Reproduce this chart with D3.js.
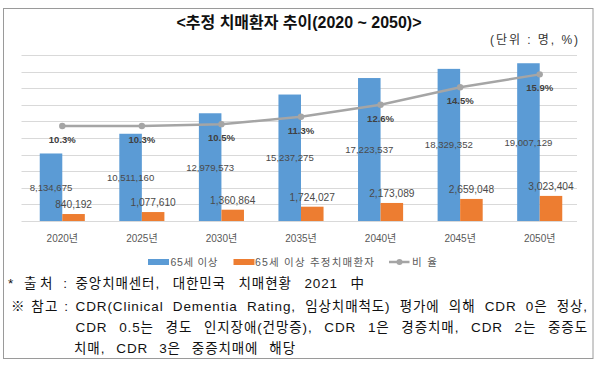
<!DOCTYPE html>
<html>
<head>
<meta charset="utf-8">
<script src="https://cdn.jsdelivr.net/npm/d3@7"></script>
<style>
  body { margin: 0; background: #fff; }
  svg { display: block; font-family: "Liberation Sans", "Noto Sans CJK KR", sans-serif; }
</style>
</head>
<body>
<div id="chart"></div>
<script>
// data
var years = ["2020년", "2025년", "2030년", "2035년", "2040년", "2045년", "2050년"];
var pop65 = [8134675, 10511160, 12979573, 15237275, 17223537, 18329352, 19007129];
var dementia = [840192, 1077610, 1360864, 1724027, 2173089, 2659048, 3023404];
var ratio = [10.3, 10.3, 10.5, 11.3, 12.6, 14.5, 15.9];
var seriesNames = ["65세 이상", "65세 이상 추정치매환자", "비 율"];

var title = "<추정 치매환자 추이(2020 ~ 2050)>";
var unitText = "(단위 : 명, %)";
var notes = [
  ["* 출처 :", "중앙치매센터, 대한민국 치매현황 2021 中"],
  ["※ 참고 :", "CDR(Clinical Dementia Rating, 임상치매척도) 평가에 의해 CDR 0은 정상,"],
  ["", "CDR 0.5는 경도 인지장애(건망증), CDR 1은 경증치매, CDR 2는 중증도"],
  ["", "치매, CDR 3은 중증치매에 해당"]
];

var svgWidth = 600;
var svgHeight = 366;
var blue = "#5b9bd5", orange = "#ed7d31", grey = "#a5a5a5";

var svg = d3.select("#chart")
  .append("svg")
  .attr("width", svgWidth)
  .attr("height", svgHeight);

// stretch / squeeze a text to a given width
function fit(sel, w) {
  var n = sel.node().getComputedTextLength();
  sel.attr("textLength", w)
    .attr("lengthAdjust", n > w ? "spacingAndGlyphs" : "spacing");
}

// justify by widening the spaces only
function justify(sel, w) {
  var spaces = (sel.text().match(/ /g) || []).length;
  for (var k = 0; k < 3; k++) {
    var n = sel.node().getComputedTextLength();
    var ws = parseFloat(sel.style("word-spacing")) || 0;
    sel.style("word-spacing", (ws + (w - n) / spaces) + "px");
  }
}

// outer frame
svg.append("rect")
  .attr("x", 3.5).attr("y", 8.5)
  .attr("width", 589.5).attr("height", 350)
  .attr("fill", "none")
  .attr("stroke", "#9a9a9a");

// scales
var x0 = d3.scaleBand().domain(years).range([22.5, 579.5]);
var x1 = d3.scaleBand().domain([0, 1]).range([0, x0.bandwidth()]).paddingOuter(0.765);
var y = d3.scaleLinear().domain([0, 20000000]).range([221, 55]);
var y2 = d3.scaleLinear().domain([0, 18]).range([221, 55]);

// gridlines
svg.append("g")
  .selectAll("line")
  .data(y.ticks(10))
  .enter()
  .append("line")
  .attr("x1", 21.5).attr("x2", 577)
  .attr("y1", d => Math.round(y(d)) + 0.5)
  .attr("y2", d => Math.round(y(d)) + 0.5)
  .attr("stroke", "#d9d9d9");

// bars
var groups = svg.append("g")
  .selectAll("g")
  .data(years)
  .enter()
  .append("g")
  .attr("transform", d => `translate(${x0(d)},0)`);

groups.append("rect")
  .attr("x", x1(0))
  .attr("width", x1.bandwidth())
  .attr("y", (d, i) => y(pop65[i]))
  .attr("height", (d, i) => y(0) - y(pop65[i]))
  .attr("fill", blue);

groups.append("rect")
  .attr("x", x1(1))
  .attr("width", x1.bandwidth())
  .attr("y", (d, i) => y(dementia[i]))
  .attr("height", (d, i) => y(0) - y(dementia[i]))
  .attr("fill", orange);

// bar labels
var fmt = d3.format(",");
groups.append("text")
  .attr("x", x1(0) + x1.bandwidth() / 2)
  .attr("y", (d, i) => (y(pop65[i]) + y(0)) / 2)
  .attr("text-anchor", "middle")
  .attr("dominant-baseline", "central")
  .attr("font-size", 9.6)
  .attr("fill", "#4a4a4a")
  .text((d, i) => fmt(pop65[i]));

groups.append("text")
  .attr("x", x1(1) + x1.bandwidth() / 2)
  .attr("y", (d, i) => y(dementia[i]) - 9.5)
  .attr("text-anchor", "middle")
  .attr("dominant-baseline", "central")
  .attr("font-size", 10.2)
  .attr("fill", "#4a4a4a")
  .text((d, i) => fmt(dementia[i]));

// ratio line
var cx = d => x0(d) + x0.bandwidth() / 2;
var line = d3.line()
  .x((d, i) => cx(years[i]))
  .y(d => y2(d));

svg.append("path")
  .datum(ratio)
  .attr("d", line)
  .attr("fill", "none")
  .attr("stroke", grey)
  .attr("stroke-width", 2.5);

svg.append("g")
  .selectAll("circle")
  .data(ratio)
  .enter()
  .append("circle")
  .attr("cx", (d, i) => cx(years[i]))
  .attr("cy", d => y2(d))
  .attr("r", 3.2)
  .attr("fill", grey);

svg.append("g")
  .selectAll("text")
  .data(ratio)
  .enter()
  .append("text")
  .attr("x", (d, i) => cx(years[i]))
  .attr("y", d => y2(d) + 13.5)
  .attr("text-anchor", "middle")
  .attr("dominant-baseline", "central")
  .attr("font-size", 9.5)
  .attr("font-weight", "bold")
  .attr("fill", "#404040")
  .text(d => d.toFixed(1) + "%");

// x axis labels
var xAxis = d3.axisBottom(x0).tickSize(0).tickPadding(0);
var gx = svg.append("g")
  .attr("transform", "translate(0,235)")
  .call(xAxis);
gx.select(".domain").remove();
gx.selectAll("text")
  .attr("font-size", 10)
  .attr("fill", "#595959")
  .attr("font-family", "Liberation Sans, Noto Sans CJK KR, sans-serif");

// legend
var legend = svg.append("g").attr("transform", "translate(0,262)");
legend.append("rect").attr("x", 148).attr("y", -3).attr("width", 21).attr("height", 6).attr("fill", blue);
legend.append("rect").attr("x", 233.5).attr("y", -3).attr("width", 21).attr("height", 6).attr("fill", orange);
legend.append("line").attr("x1", 389).attr("x2", 409.5).attr("y1", 0).attr("y2", 0)
  .attr("stroke", grey).attr("stroke-width", 2.5);
legend.append("circle").attr("cx", 399.5).attr("cy", 0).attr("r", 3).attr("fill", grey);
legend.selectAll("text")
  .data(seriesNames)
  .enter()
  .append("text")
  .attr("x", (d, i) => [170.5, 255, 412][i])
  .attr("y", 0)
  .attr("dominant-baseline", "central")
  .attr("font-size", 10.5)
  .attr("fill", "#595959")
  .text(d => d)
  .each(function(d, i) { fit(d3.select(this), [47, 119, 25][i]); });

// title and unit
var t = svg.append("text")
  .attr("x", 176.5).attr("y", 22)
  .attr("dominant-baseline", "central")
  .attr("font-size", 16)
  .attr("font-weight", "bold")
  .attr("fill", "#111")
  .text(title);
fit(t, 245);

var u = svg.append("text")
  .attr("x", 490).attr("y", 39.5)
  .attr("dominant-baseline", "central")
  .attr("font-size", 12)
  .attr("fill", "#333")
  .text(unitText);
fit(u, 88);

// notes below the chart
var noteY = [283, 306, 327.5, 348];
var noteEnd = [365, 588, 588, 296];
notes.forEach(function(n, i) {
  if (n[0]) {
    var p = svg.append("text")
      .attr("x", i == 0 ? 8 : 11).attr("y", noteY[i])
      .attr("dominant-baseline", "central")
      .attr("font-size", 13.5)
      .attr("fill", "#111")
      .text(n[0]);
    fit(p, i == 0 ? 59 : 57);
  }
  var x = i == 3 ? 74 : 75.5;
  var s = svg.append("text")
    .attr("x", x).attr("y", noteY[i])
    .attr("dominant-baseline", "central")
    .attr("font-size", 13.5)
    .attr("fill", "#111")
    .style("letter-spacing", "0.9px")
    .text(n[1]);
  justify(s, noteEnd[i] - x);
});
</script>
</body>
</html>
